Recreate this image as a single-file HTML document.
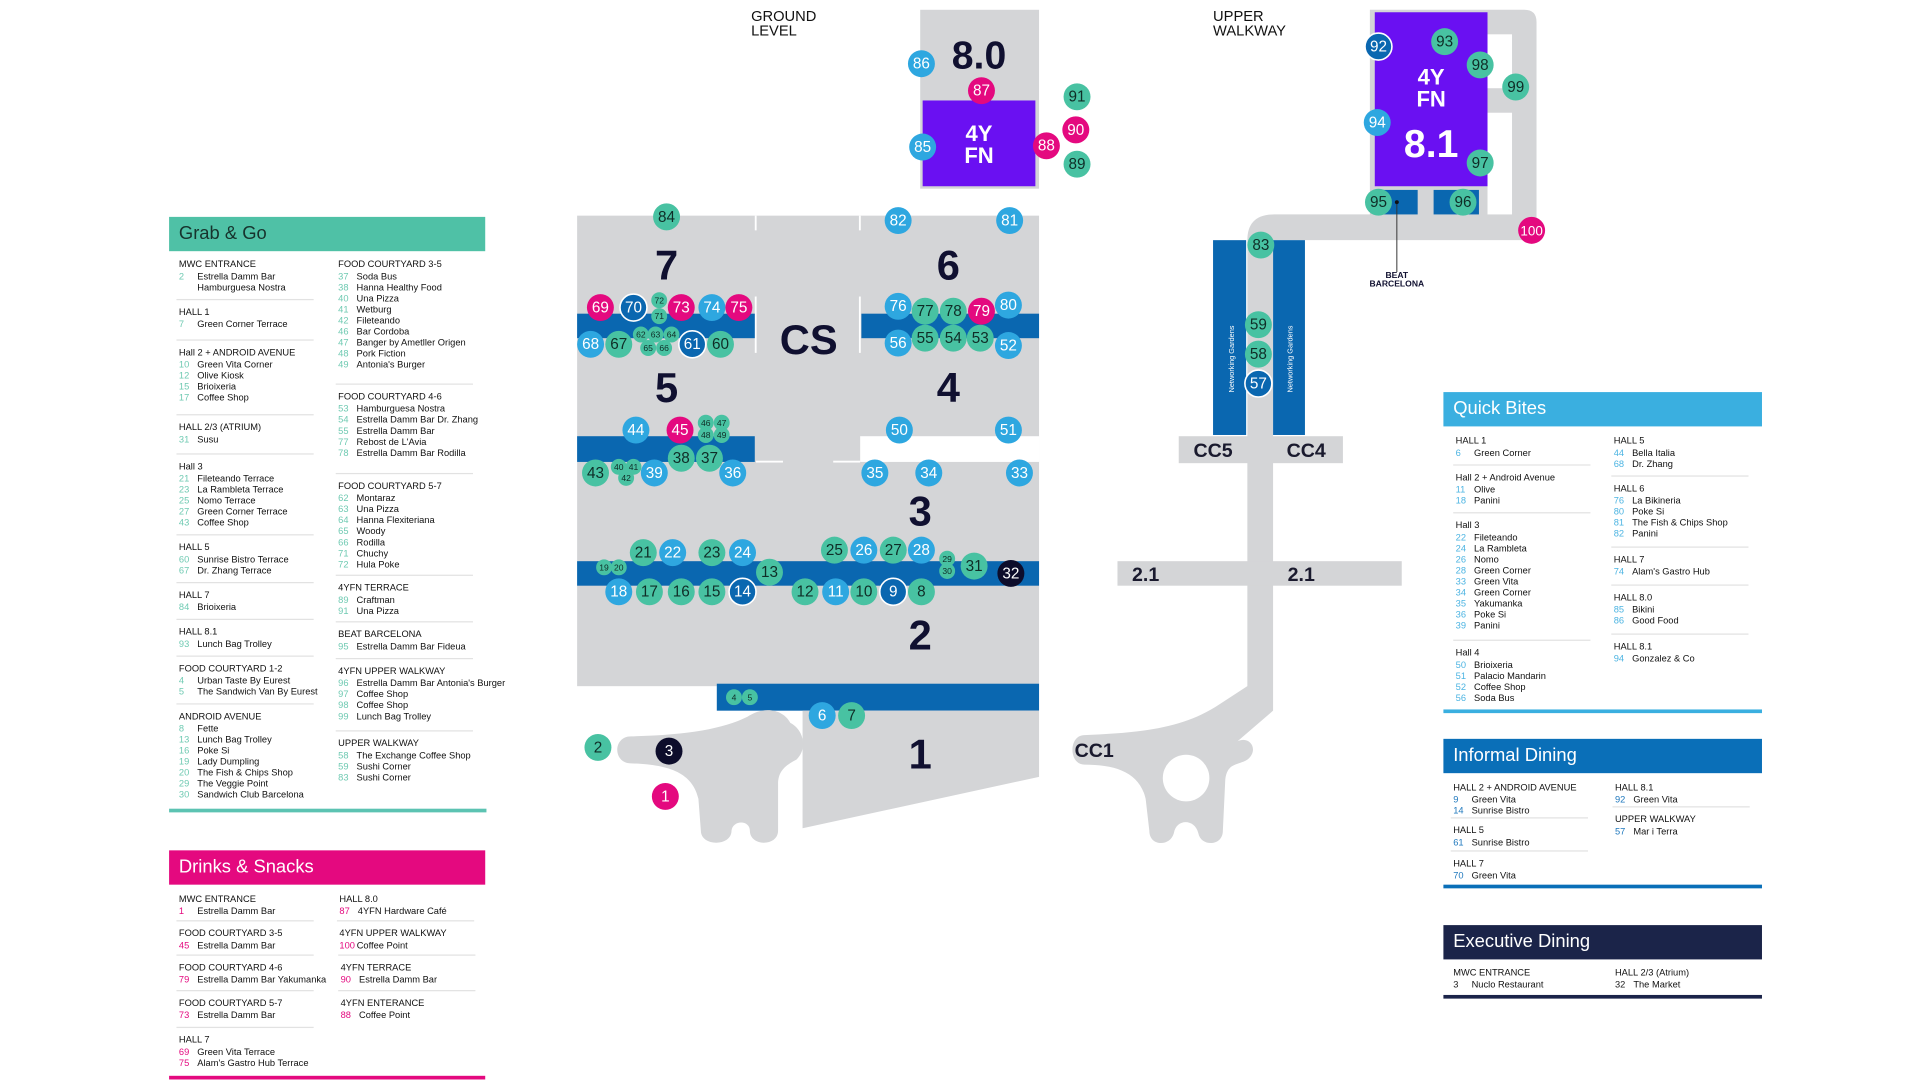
<!DOCTYPE html>
<html><head><meta charset="utf-8">
<style>
html,body{margin:0;padding:0;background:#fff;width:1920px;height:1080px;overflow:hidden}
#w{position:absolute;left:0;top:0;width:1567px;height:882px;transform:scale(1.2253);transform-origin:0 0;font-family:"Liberation Sans",sans-serif}
svg{position:absolute;left:0;top:0}
.hd{position:absolute;height:28px;color:#fff;font-size:15px;line-height:28px;padding-left:8px;box-sizing:border-box}
.bl{position:absolute;height:3px}
.s{position:absolute;font-size:7.6px;line-height:9px;color:#111;white-space:nowrap}
.s b{font-weight:normal;display:block;margin-bottom:1px}
.s p{margin:0}
.s i{font-style:normal;display:inline-block;width:15px}
.s::before{content:"";position:absolute;left:-2px;top:-6px;width:112px;height:1px;background:#e2e2e2}
.s.f::before{display:none}
.g i{color:#6fcab2}.k i{color:#e4097f}.q i{color:#4cb4e2}.inf i{color:#1f78bd}.ex i{color:#222}
.c text{font-size:12.5px;text-anchor:middle}
.t{fill:#48c2a2}.b{fill:#2ea7e0}.m{fill:#e4097f}.d{fill:#0a67b0;stroke:#fff;stroke-width:1.3}.n{fill:#0d0d2b}
.tt{fill:#0f2d27}.wt{fill:#fff}
.sm text{font-size:7px}
</style></head><body><div id="w">
<svg width="1567" height="882" viewBox="0 0 1567 882">
<!-- main halls -->
<rect x="471" y="176" width="377" height="384" fill="#d4d5d7"/>
<rect x="702" y="356" width="146" height="21" fill="#fff"/>
<rect x="616" y="176" width="1.5" height="12" fill="#fff"/><rect x="701" y="176" width="1.5" height="12" fill="#fff"/>
<rect x="616" y="242" width="1.5" height="46" fill="#fff"/><rect x="701" y="242" width="1.5" height="46" fill="#fff"/>
<rect x="617" y="376" width="22" height="1.5" fill="#fff"/><rect x="680" y="376" width="22" height="1.5" fill="#fff"/>
<rect x="471" y="256" width="145" height="20" fill="#0a67b0"/>
<rect x="703" y="256" width="145" height="20" fill="#0a67b0"/>
<rect x="471" y="356" width="145" height="21" fill="#0a67b0"/>
<rect x="471" y="458" width="377" height="20" fill="#0a67b0"/>
<rect x="585" y="558" width="263" height="22" fill="#0a67b0"/>
<polygon points="655,580 848,580 848,634 655,676" fill="#d4d5d7"/>
<path d="M515 601 C560 600 590 595 610 585 C625 575 640 580 645 590 C655 595 660 610 650 620 C640 625 635 630 635 640 L635 678 C635 691 612 691 612 678 C612 669 598 669 597 678 C597 691 572 691 572 678 L570 652 C565 630 545 624 515 623 C500 623 500 601 515 601 Z" fill="#d4d5d7"/>
<g font-weight="bold" fill="#101030" text-anchor="middle" font-size="34">
<text x="544" y="228">7</text><text x="774" y="228">6</text><text x="660" y="289">CS</text>
<text x="544" y="328">5</text><text x="774" y="328">4</text><text x="751" y="429">3</text>
<text x="751" y="530">2</text><text x="751" y="627">1</text>
</g>
<!-- 8.0 -->
<rect x="751" y="8" width="97" height="146" fill="#d4d5d7"/>
<rect x="753" y="82" width="92" height="70" fill="#6a10f2"/>
<text x="799" y="56" font-size="32" font-weight="bold" fill="#101030" text-anchor="middle">8.0</text>
<g fill="#fff" font-weight="bold" font-size="18" text-anchor="middle"><text x="799" y="115">4Y</text><text x="799" y="133">FN</text></g>
<text x="613" y="17" font-size="12" fill="#111">GROUND</text><text x="613" y="29" font-size="12" fill="#111">LEVEL</text>
<text x="990" y="17" font-size="12" fill="#111">UPPER</text><text x="990" y="29" font-size="12" fill="#111">WALKWAY</text>
<!-- upper walkway -->
<path d="M1118 8 L1244 8 Q1254 8 1254 18 L1254 186 Q1254 196 1244 196 L1039 196 L1039 580 L1010 605 C1020 600 1028 612 1018 620 C1010 625 1002 622 1000 636 L998 678 C998 691 980 691 978 680 C975 668 960 668 958 680 C955 691 938 691 938 678 L935 652 C930 630 910 624 885 624 C872 624 872 600 885 600 C930 598 965 595 995 575 L1018 560 L1018 196 Q1018 175 1040 175 L1118 175 Z" fill="#d4d5d7"/>
<circle cx="968" cy="635" r="19" fill="#fff"/>
<rect x="1214" y="28" width="20" height="44" fill="#fff"/><rect x="1214" y="92" width="20" height="83" fill="#fff"/>
<rect x="1122" y="10" width="92" height="142" fill="#6a10f2"/>
<rect x="1122" y="155" width="35" height="20" fill="#0a67b0"/><rect x="1170" y="155" width="37" height="20" fill="#0a67b0"/>
<g fill="#fff" font-weight="bold" text-anchor="middle"><text x="1168" y="69" font-size="18">4Y</text><text x="1168" y="87" font-size="18">FN</text><text x="1168" y="128" font-size="32">8.1</text></g>
<line x1="1140" y1="165" x2="1140" y2="222" stroke="#333" stroke-width="0.8"/><circle cx="1140" cy="165" r="1.6" fill="#111"/>
<g font-size="7" font-weight="bold" fill="#101030" text-anchor="middle"><text x="1140" y="227">BEAT</text><text x="1140" y="234">BARCELONA</text></g>
<rect x="990" y="196" width="27" height="159" fill="#0a67b0"/><rect x="1039" y="196" width="26" height="159" fill="#0a67b0"/>
<g font-size="6" fill="#fff" text-anchor="middle"><text transform="translate(1007,293) rotate(-90)">Networking Gardens</text><text transform="translate(1055,293) rotate(-90)">Networking Gardens</text></g>
<rect x="962" y="356" width="134" height="22" fill="#d4d5d7"/>
<rect x="912" y="458" width="232" height="20" fill="#d4d5d7"/>
<g font-size="16" font-weight="bold" fill="#1a1a2e" text-anchor="middle">
<text x="990" y="373">CC5</text><text x="1066" y="373">CC4</text><text x="935" y="474">2.1</text><text x="1062" y="474">2.1</text><text x="893" y="618">CC1</text></g>
<!-- circles -->
<g class="c">
<circle cx="544" cy="177" r="11" class="t"/><text x="544" y="181" class="tt">84</text>
<circle cx="733" cy="180" r="11" class="b"/><text x="733" y="184" class="wt">82</text>
<circle cx="824" cy="180" r="11" class="b"/><text x="824" y="184" class="wt">81</text>
<circle cx="490" cy="251" r="11" class="m"/><text x="490" y="255" class="wt">69</text>
<circle cx="517" cy="251" r="11" class="d"/><text x="517" y="255" class="wt">70</text>
<circle cx="556" cy="251" r="11" class="m"/><text x="556" y="255" class="wt">73</text>
<circle cx="581" cy="251" r="11" class="b"/><text x="581" y="255" class="wt">74</text>
<circle cx="603" cy="251" r="11" class="m"/><text x="603" y="255" class="wt">75</text>
<circle cx="482" cy="281" r="11" class="b"/><text x="482" y="285" class="wt">68</text>
<circle cx="505" cy="281" r="11" class="t"/><text x="505" y="285" class="tt">67</text>
<circle cx="565" cy="281" r="11" class="d"/><text x="565" y="285" class="wt">61</text>
<circle cx="588" cy="281" r="11" class="t"/><text x="588" y="285" class="tt">60</text>
<circle cx="733" cy="250" r="11" class="b"/><text x="733" y="254" class="wt">76</text>
<circle cx="755" cy="254" r="11" class="t"/><text x="755" y="258" class="tt">77</text>
<circle cx="778" cy="254" r="11" class="t"/><text x="778" y="258" class="tt">78</text>
<circle cx="801" cy="254" r="11" class="m"/><text x="801" y="258" class="wt">79</text>
<circle cx="823" cy="249" r="11" class="b"/><text x="823" y="253" class="wt">80</text>
<circle cx="733" cy="280" r="11" class="b"/><text x="733" y="284" class="wt">56</text>
<circle cx="755" cy="276" r="11" class="t"/><text x="755" y="280" class="tt">55</text>
<circle cx="778" cy="276" r="11" class="t"/><text x="778" y="280" class="tt">54</text>
<circle cx="800" cy="276" r="11" class="t"/><text x="800" y="280" class="tt">53</text>
<circle cx="823" cy="282" r="11" class="b"/><text x="823" y="286" class="wt">52</text>
<circle cx="519" cy="351" r="11" class="b"/><text x="519" y="355" class="wt">44</text>
<circle cx="555" cy="351" r="11" class="m"/><text x="555" y="355" class="wt">45</text>
<circle cx="556" cy="374" r="11" class="t"/><text x="556" y="378" class="tt">38</text>
<circle cx="579" cy="374" r="11" class="t"/><text x="579" y="378" class="tt">37</text>
<circle cx="486" cy="386" r="11" class="t"/><text x="486" y="390" class="tt">43</text>
<circle cx="534" cy="386" r="11" class="b"/><text x="534" y="390" class="wt">39</text>
<circle cx="598" cy="386" r="11" class="b"/><text x="598" y="390" class="wt">36</text>
<circle cx="734" cy="351" r="11" class="b"/><text x="734" y="355" class="wt">50</text>
<circle cx="823" cy="351" r="11" class="b"/><text x="823" y="355" class="wt">51</text>
<circle cx="714" cy="386" r="11" class="b"/><text x="714" y="390" class="wt">35</text>
<circle cx="758" cy="386" r="11" class="b"/><text x="758" y="390" class="wt">34</text>
<circle cx="832" cy="386" r="11" class="b"/><text x="832" y="390" class="wt">33</text>
<circle cx="525" cy="451" r="11" class="t"/><text x="525" y="455" class="tt">21</text>
<circle cx="549" cy="451" r="11" class="b"/><text x="549" y="455" class="wt">22</text>
<circle cx="581" cy="451" r="11" class="t"/><text x="581" y="455" class="tt">23</text>
<circle cx="606" cy="451" r="11" class="b"/><text x="606" y="455" class="wt">24</text>
<circle cx="628" cy="467" r="11" class="t"/><text x="628" y="471" class="tt">13</text>
<circle cx="681" cy="449" r="11" class="t"/><text x="681" y="453" class="tt">25</text>
<circle cx="705" cy="449" r="11" class="b"/><text x="705" y="453" class="wt">26</text>
<circle cx="729" cy="449" r="11" class="t"/><text x="729" y="453" class="tt">27</text>
<circle cx="752" cy="449" r="11" class="b"/><text x="752" y="453" class="wt">28</text>
<circle cx="795" cy="462" r="11" class="t"/><text x="795" y="466" class="tt">31</text>
<circle cx="825" cy="468" r="11" class="n"/><text x="825" y="472" class="wt">32</text>
<circle cx="505" cy="483" r="11" class="b"/><text x="505" y="487" class="wt">18</text>
<circle cx="530" cy="483" r="11" class="t"/><text x="530" y="487" class="tt">17</text>
<circle cx="556" cy="483" r="11" class="t"/><text x="556" y="487" class="tt">16</text>
<circle cx="581" cy="483" r="11" class="t"/><text x="581" y="487" class="tt">15</text>
<circle cx="606" cy="483" r="11" class="d"/><text x="606" y="487" class="wt">14</text>
<circle cx="657" cy="483" r="11" class="t"/><text x="657" y="487" class="tt">12</text>
<circle cx="682" cy="483" r="11" class="b"/><text x="682" y="487" class="wt">11</text>
<circle cx="705" cy="483" r="11" class="t"/><text x="705" y="487" class="tt">10</text>
<circle cx="729" cy="483" r="11" class="d"/><text x="729" y="487" class="wt">9</text>
<circle cx="752" cy="483" r="11" class="t"/><text x="752" y="487" class="tt">8</text>
<circle cx="671" cy="584" r="11" class="b"/><text x="671" y="588" class="wt">6</text>
<circle cx="695" cy="584" r="11" class="t"/><text x="695" y="588" class="tt">7</text>
<circle cx="488" cy="610" r="11" class="t"/><text x="488" y="614" class="tt">2</text>
<circle cx="546" cy="613" r="11" class="n"/><text x="546" y="617" class="wt">3</text>
<circle cx="543" cy="650" r="11" class="m"/><text x="543" y="654" class="wt">1</text>
<circle cx="752" cy="52" r="11" class="b"/><text x="752" y="56" class="wt">86</text>
<circle cx="801" cy="74" r="11" class="m"/><text x="801" y="78" class="wt">87</text>
<circle cx="753" cy="120" r="11" class="b"/><text x="753" y="124" class="wt">85</text>
<circle cx="854" cy="119" r="11" class="m"/><text x="854" y="123" class="wt">88</text>
<circle cx="879" cy="79" r="11" class="t"/><text x="879" y="83" class="tt">91</text>
<circle cx="878" cy="106" r="11" class="m"/><text x="878" y="110" class="wt">90</text>
<circle cx="879" cy="134" r="11" class="t"/><text x="879" y="138" class="tt">89</text>
<circle cx="1029" cy="200" r="11" class="t"/><text x="1029" y="204" class="tt">83</text>
<circle cx="1027" cy="265" r="11" class="t"/><text x="1027" y="269" class="tt">59</text>
<circle cx="1027" cy="289" r="11" class="t"/><text x="1027" y="293" class="tt">58</text>
<circle cx="1027" cy="313" r="11" class="d"/><text x="1027" y="317" class="wt">57</text>
<circle cx="1125" cy="38" r="11" class="d"/><text x="1125" y="42" class="wt">92</text>
<circle cx="1179" cy="34" r="11" class="t"/><text x="1179" y="38" class="tt">93</text>
<circle cx="1208" cy="53" r="11" class="t"/><text x="1208" y="57" class="tt">98</text>
<circle cx="1237" cy="71" r="11" class="t"/><text x="1237" y="75" class="tt">99</text>
<circle cx="1124" cy="100" r="11" class="b"/><text x="1124" y="104" class="wt">94</text>
<circle cx="1208" cy="133" r="11" class="t"/><text x="1208" y="137" class="tt">97</text>
<circle cx="1125" cy="165" r="11" class="t"/><text x="1125" y="169" class="tt">95</text>
<circle cx="1194" cy="165" r="11" class="t"/><text x="1194" y="169" class="tt">96</text>
<circle cx="1250" cy="188" r="11" class="m"/><text x="1250" y="192" class="wt" style="font-size:11px">100</text>
</g>
<g class="c sm">
<circle cx="538" cy="245" r="6.5" class="t"/><text x="538" y="247.5" class="tt">72</text>
<circle cx="538" cy="258" r="6.5" class="t"/><text x="538" y="260.5" class="tt">71</text>
<circle cx="523" cy="273" r="6.5" class="t"/><text x="523" y="275.5" class="tt">62</text>
<circle cx="535" cy="273" r="6.5" class="t"/><text x="535" y="275.5" class="tt">63</text>
<circle cx="548" cy="273" r="6.5" class="t"/><text x="548" y="275.5" class="tt">64</text>
<circle cx="529" cy="284" r="6.5" class="t"/><text x="529" y="286.5" class="tt">65</text>
<circle cx="542" cy="284" r="6.5" class="t"/><text x="542" y="286.5" class="tt">66</text>
<circle cx="576" cy="345" r="6.5" class="t"/><text x="576" y="347.5" class="tt">46</text>
<circle cx="589" cy="345" r="6.5" class="t"/><text x="589" y="347.5" class="tt">47</text>
<circle cx="576" cy="355" r="6.5" class="t"/><text x="576" y="357.5" class="tt">48</text>
<circle cx="589" cy="355" r="6.5" class="t"/><text x="589" y="357.5" class="tt">49</text>
<circle cx="505" cy="381" r="6.5" class="t"/><text x="505" y="383.5" class="tt">40</text>
<circle cx="517" cy="381" r="6.5" class="t"/><text x="517" y="383.5" class="tt">41</text>
<circle cx="511" cy="390" r="6.5" class="t"/><text x="511" y="392.5" class="tt">42</text>
<circle cx="493" cy="463" r="6.5" class="t"/><text x="493" y="465.5" class="tt">19</text>
<circle cx="505" cy="463" r="6.5" class="t"/><text x="505" y="465.5" class="tt">20</text>
<circle cx="773" cy="456" r="6.5" class="t"/><text x="773" y="458.5" class="tt">29</text>
<circle cx="773" cy="466" r="6.5" class="t"/><text x="773" y="468.5" class="tt">30</text>
<circle cx="599" cy="569" r="6.5" class="t"/><text x="599" y="571.5" class="tt">4</text>
<circle cx="612" cy="569" r="6.5" class="t"/><text x="612" y="571.5" class="tt">5</text>
</g>
</svg>

<!-- Grab & Go -->
<div class="hd" style="left:138px;top:177px;width:258px;background:#4fc1a6;color:#17332d">Grab &amp; Go</div>
<div class="s g f" style="left:146px;top:211px"><b>MWC ENTRANCE</b><p><i>2</i>Estrella Damm Bar</p><p><i></i>Hamburguesa Nostra</p></div>
<div class="s g" style="left:146px;top:250px"><b>HALL 1</b><p><i>7</i>Green Corner Terrace</p></div>
<div class="s g" style="left:146px;top:283px"><b>Hall 2 + ANDROID AVENUE</b><p><i>10</i>Green Vita Corner</p><p><i>12</i>Olive Kiosk</p><p><i>15</i>Brioixeria</p><p><i>17</i>Coffee Shop</p></div>
<div class="s g" style="left:146px;top:344px"><b>HALL 2/3 (ATRIUM)</b><p><i>31</i>Susu</p></div>
<div class="s g" style="left:146px;top:376px"><b>Hall 3</b><p><i>21</i>Fileteando Terrace</p><p><i>23</i>La Rambleta Terrace</p><p><i>25</i>Nomo Terrace</p><p><i>27</i>Green Corner Terrace</p><p><i>43</i>Coffee Shop</p></div>
<div class="s g" style="left:146px;top:442px"><b>HALL 5</b><p><i>60</i>Sunrise Bistro Terrace</p><p><i>67</i>Dr. Zhang Terrace</p></div>
<div class="s g" style="left:146px;top:481px"><b>HALL 7</b><p><i>84</i>Brioixeria</p></div>
<div class="s g" style="left:146px;top:511px"><b>HALL 8.1</b><p><i>93</i>Lunch Bag Trolley</p></div>
<div class="s g" style="left:146px;top:541px"><b>FOOD COURTYARD 1-2</b><p><i>4</i>Urban Taste By Eurest</p><p><i>5</i>The Sandwich Van By Eurest</p></div>
<div class="s g" style="left:146px;top:580px"><b>ANDROID AVENUE</b><p><i>8</i>Fette</p><p><i>13</i>Lunch Bag Trolley</p><p><i>16</i>Poke Si</p><p><i>19</i>Lady Dumpling</p><p><i>20</i>The Fish &amp; Chips Shop</p><p><i>29</i>The Veggie Point</p><p><i>30</i>Sandwich Club Barcelona</p></div>
<div class="s g f" style="left:276px;top:211px"><b>FOOD COURTYARD 3-5</b><p><i>37</i>Soda Bus</p><p><i>38</i>Hanna Healthy Food</p><p><i>40</i>Una Pizza</p><p><i>41</i>Wetburg</p><p><i>42</i>Fileteando</p><p><i>46</i>Bar Cordoba</p><p><i>47</i>Banger by Ametller Origen</p><p><i>48</i>Pork Fiction</p><p><i>49</i>Antonia's Burger</p></div>
<div class="s g" style="left:276px;top:319px"><b>FOOD COURTYARD 4-6</b><p><i>53</i>Hamburguesa Nostra</p><p><i>54</i>Estrella Damm Bar Dr. Zhang</p><p><i>55</i>Estrella Damm Bar</p><p><i>77</i>Rebost de L'Avia</p><p><i>78</i>Estrella Damm Bar Rodilla</p></div>
<div class="s g" style="left:276px;top:392px"><b>FOOD COURTYARD 5-7</b><p><i>62</i>Montaraz</p><p><i>63</i>Una Pizza</p><p><i>64</i>Hanna Flexiteriana</p><p><i>65</i>Woody</p><p><i>66</i>Rodilla</p><p><i>71</i>Chuchy</p><p><i>72</i>Hula Poke</p></div>
<div class="s g" style="left:276px;top:475px"><b>4YFN TERRACE</b><p><i>89</i>Craftman</p><p><i>91</i>Una Pizza</p></div>
<div class="s g" style="left:276px;top:513px"><b>BEAT BARCELONA</b><p><i>95</i>Estrella Damm Bar Fideua</p></div>
<div class="s g" style="left:276px;top:543px"><b>4YFN UPPER WALKWAY</b><p><i>96</i>Estrella Damm Bar Antonia's Burger</p><p><i>97</i>Coffee Shop</p><p><i>98</i>Coffee Shop</p><p><i>99</i>Lunch Bag Trolley</p></div>
<div class="s g" style="left:276px;top:602px"><b>UPPER WALKWAY</b><p><i>58</i>The Exchange Coffee Shop</p><p><i>59</i>Sushi Corner</p><p><i>83</i>Sushi Corner</p></div>
<div class="bl" style="left:138px;top:660px;width:259px;background:#5cc3b2"></div>

<!-- Drinks -->
<div class="hd" style="left:138px;top:694px;width:258px;background:#e4097f">Drinks &amp; Snacks</div>
<div class="s k f" style="left:146px;top:729px"><b>MWC ENTRANCE</b><p><i>1</i>Estrella Damm Bar</p></div>
<div class="s k" style="left:146px;top:757px"><b>FOOD COURTYARD 3-5</b><p><i>45</i>Estrella Damm Bar</p></div>
<div class="s k" style="left:146px;top:785px"><b>FOOD COURTYARD 4-6</b><p><i>79</i>Estrella Damm Bar Yakumanka</p></div>
<div class="s k" style="left:146px;top:814px"><b>FOOD COURTYARD 5-7</b><p><i>73</i>Estrella Damm Bar</p></div>
<div class="s k" style="left:146px;top:844px"><b>HALL 7</b><p><i>69</i>Green Vita Terrace</p><p><i>75</i>Alam's Gastro Hub Terrace</p></div>
<div class="s k f" style="left:277px;top:729px"><b>HALL 8.0</b><p><i>87</i>4YFN Hardware Café</p></div>
<div class="s k" style="left:277px;top:757px"><b>4YFN UPPER WALKWAY</b><p><i style="width:12px">100</i> Coffee Point</p></div>
<div class="s k" style="left:278px;top:785px"><b>4YFN TERRACE</b><p><i>90</i>Estrella Damm Bar</p></div>
<div class="s k" style="left:278px;top:814px"><b>4YFN ENTERANCE</b><p><i>88</i>Coffee Point</p></div>
<div class="bl" style="left:138px;top:878px;width:258px;background:#e4097f"></div>

<!-- Quick Bites -->
<div class="hd" style="left:1178px;top:320px;width:260px;background:#3aafe0">Quick Bites</div>
<div class="s q f" style="left:1188px;top:355px"><b>HALL 1</b><p><i>6</i>Green Corner</p></div>
<div class="s q" style="left:1188px;top:385px"><b>Hall 2 + Android Avenue</b><p><i>11</i>Olive</p><p><i>18</i>Panini</p></div>
<div class="s q" style="left:1188px;top:424px"><b>Hall 3</b><p><i>22</i>Fileteando</p><p><i>24</i>La Rambleta</p><p><i>26</i>Nomo</p><p><i>28</i>Green Corner</p><p><i>33</i>Green Vita</p><p><i>34</i>Green Corner</p><p><i>35</i>Yakumanka</p><p><i>36</i>Poke Si</p><p><i>39</i>Panini</p></div>
<div class="s q" style="left:1188px;top:528px"><b>Hall 4</b><p><i>50</i>Brioixeria</p><p><i>51</i>Palacio Mandarin</p><p><i>52</i>Coffee Shop</p><p><i>56</i>Soda Bus</p></div>
<div class="s q f" style="left:1317px;top:355px"><b>HALL 5</b><p><i>44</i>Bella Italia</p><p><i>68</i>Dr. Zhang</p></div>
<div class="s q" style="left:1317px;top:394px"><b>HALL 6</b><p><i>76</i>La Bikineria</p><p><i>80</i>Poke Si</p><p><i>81</i>The Fish &amp; Chips Shop</p><p><i>82</i>Panini</p></div>
<div class="s q" style="left:1317px;top:452px"><b>HALL 7</b><p><i>74</i>Alam's Gastro Hub</p></div>
<div class="s q" style="left:1317px;top:483px"><b>HALL 8.0</b><p><i>85</i>Bikini</p><p><i>86</i>Good Food</p></div>
<div class="s q" style="left:1317px;top:523px"><b>HALL 8.1</b><p><i>94</i>Gonzalez &amp; Co</p></div>
<div class="bl" style="left:1178px;top:579px;width:260px;background:#3aafe0"></div>

<!-- Informal -->
<div class="hd" style="left:1178px;top:603px;width:260px;background:#0a6fb8">Informal Dining</div>
<div class="s inf f" style="left:1186px;top:638px"><b>HALL 2 + ANDROID AVENUE</b><p><i>9</i>Green Vita</p><p><i>14</i>Sunrise Bistro</p></div>
<div class="s inf" style="left:1186px;top:673px"><b>HALL 5</b><p><i>61</i>Sunrise Bistro</p></div>
<div class="s inf" style="left:1186px;top:700px"><b>HALL 7</b><p><i>70</i>Green Vita</p></div>
<div class="s inf f" style="left:1318px;top:638px"><b>HALL 8.1</b><p><i>92</i>Green Vita</p></div>
<div class="s inf" style="left:1318px;top:664px"><b>UPPER WALKWAY</b><p><i>57</i>Mar i Terra</p></div>
<div class="bl" style="left:1178px;top:722px;width:260px;background:#0a6fb8"></div>

<!-- Executive -->
<div class="hd" style="left:1178px;top:755px;width:260px;background:#1b2449">Executive Dining</div>
<div class="s ex f" style="left:1186px;top:789px"><b>MWC ENTRANCE</b><p><i>3</i>Nuclo Restaurant</p></div>
<div class="s ex f" style="left:1318px;top:789px"><b>HALL 2/3 (Atrium)</b><p><i>32</i>The Market</p></div>
<div class="bl" style="left:1178px;top:812px;width:260px;background:#1b2449"></div>
</div></body></html>
